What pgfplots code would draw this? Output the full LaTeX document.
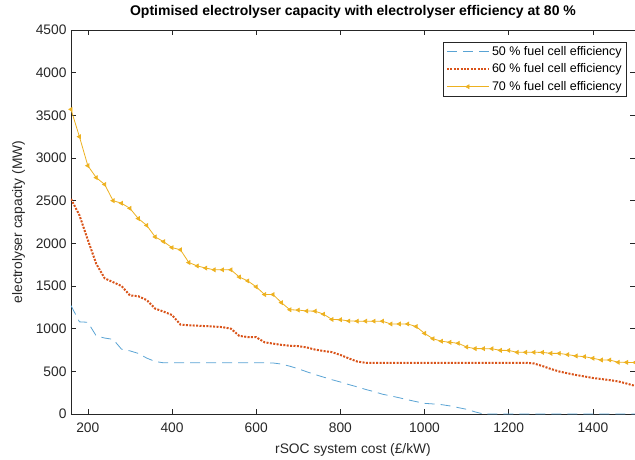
\documentclass[border=0pt]{standalone}
\usepackage{fontspec}
\setmainfont{Liberation Sans}
\usepackage{pgfplots}
\pgfplotsset{compat=1.18}
\usepackage{pgfplotstable}

\definecolor{mblue}{rgb}{0,0.447,0.741}
\definecolor{morange}{rgb}{0.85,0.325,0.098}
\definecolor{myellow}{rgb}{0.929,0.694,0.125}
\definecolor{maxis}{rgb}{0.15,0.15,0.15}

% fuel cell efficiency 50 %
\pgfplotstableread{
x y
160 1270
180 1080
200 1075
220 915
240 890
260 875
280 760
300 740
320 710
340 655
360 615
380 600
400 600
420 600
440 600
460 600
480 600
500 600
520 600
540 600
560 600
580 600
600 600
620 600
640 598
660 585
680 560
700 530
720 495
740 462
760 432
780 402
800 375
820 345
840 318
860 288
880 262
900 232
920 212
940 190
960 167
980 145
1000 125
1020 118
1040 110
1060 95
1080 75
1100 55
1120 25
1140 0
1160 0
1200 0
1300 0
1400 0
1500 0
}\fiftytab

% fuel cell efficiency 60 %
\pgfplotstableread{
x y
160 2520
180 2330
200 2040
220 1760
240 1590
260 1545
280 1500
300 1390
320 1380
340 1335
360 1235
380 1200
400 1160
420 1048
440 1040
460 1035
480 1030
500 1025
520 1018
540 1000
560 915
580 902
600 900
620 840
640 825
660 810
680 800
700 795
720 780
740 755
760 738
780 725
800 692
820 652
840 615
860 600
880 600
900 600
1000 600
1100 600
1200 600
1240 600
1260 592
1280 562
1300 528
1320 498
1340 477
1360 457
1380 440
1400 422
1420 410
1440 397
1460 382
1480 357
1500 330
}\sixtytab

% fuel cell efficiency 70 %
\pgfplotstableread{
x y
160 3570
180 3250
200 2910
220 2770
240 2690
260 2500
280 2470
300 2410
320 2290
340 2210
360 2075
380 2020
400 1950
420 1925
440 1775
460 1735
480 1710
500 1690
520 1690
540 1690
560 1605
580 1560
600 1490
620 1400
640 1400
660 1305
680 1222
700 1218
720 1207
740 1205
760 1170
780 1108
800 1105
820 1090
840 1088
860 1088
880 1088
900 1088
920 1055
940 1055
960 1055
980 1025
1000 945
1020 882
1040 853
1060 840
1080 829
1100 785
1120 766
1140 766
1160 765
1180 746
1200 745
1220 723
1240 723
1260 723
1280 722
1300 711
1320 710
1340 696
1360 680
1380 672
1400 653
1420 633
1440 633
1460 606
1480 605
1500 604
}\seventytab

\begin{document}
\begin{tikzpicture}
\begin{axis}[
  at={(0,0)}, anchor=south west,
  scale only axis, width=564pt, height=384pt,
  xmin=160, xmax=1500, ymin=0, ymax=4500,
  xtick={200,400,...,1400},
  ytick={0,500,...,4500},
  tick align=inside,
  major tick length=5pt,
  axis line style={maxis, line width=0.6pt},
  every tick/.style={maxis, line width=0.6pt},
  /pgf/number format/assume math mode=true,
  /pgf/number format/1000 sep={},
  tick label style={font=\fontsize{13.8}{16}\selectfont, text=maxis},
  xticklabel style={yshift=-5pt},
  yticklabel style={xshift=-1pt},
  title={\textbf{Optimised electrolyser capacity with electrolyser efficiency at 80 \%}},
  title style={font=\fontsize{14}{16}\selectfont, yshift=2pt},
  xlabel={rSOC system cost (£/kW)},
  ylabel={electrolyser capacity (MW)},
  label style={font=\fontsize{13.8}{16}\selectfont, text=maxis},
  xlabel style={yshift=-4pt},
  ylabel style={yshift=4pt},
  legend style={at={(1,1)}, anchor=north east, xshift=-8pt, yshift=-12pt,
    font=\fontsize{12.5}{14}\selectfont, draw=maxis, line width=0.6pt,
    row sep=3pt, inner sep=2pt, inner xsep=3pt},
  legend cell align=left,
  legend image code/.code={\draw[mark repeat=2, mark phase=2, #1] plot coordinates {(0pt,0pt) (21pt,0pt) (42pt,0pt)};},
]
\addplot[mblue!65, line width=0.8pt, dash pattern=on 10pt off 6pt] table {\fiftytab};
\addlegendentry{50 \% fuel cell efficiency}
\addplot[morange, line width=2pt, dash pattern=on 2pt off 1.4pt] table {\sixtytab};
\addlegendentry{60 \% fuel cell efficiency}
\addplot[myellow, line width=0.8pt, mark=triangle*, mark size=2.1pt,
  mark options={solid, rotate=90, fill=myellow}] table {\seventytab};
\addlegendentry{70 \% fuel cell efficiency}
\end{axis}
\pgfresetboundingbox
\useasboundingbox (-71pt,-45pt) rectangle (564pt,414pt);
\end{tikzpicture}
\end{document}
